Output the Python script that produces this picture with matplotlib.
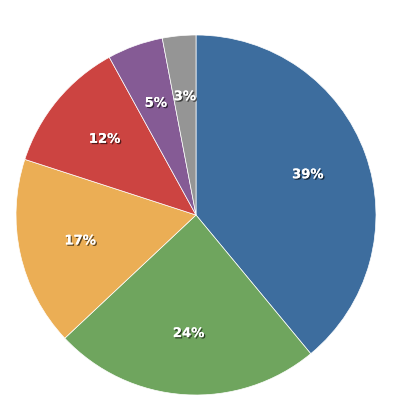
import matplotlib
matplotlib.use("Agg")
import matplotlib.pyplot as plt
import matplotlib.patheffects as pe

labels = ["A", "B", "C", "D", "E", "F"]
values = [39, 24, 17, 12, 5, 3]
colors = ["#3d6d9e", "#6fa55e", "#ebae55", "#cc4441", "#855b95", "#959595"]

fig = plt.figure(figsize=(4.03, 4.03), dpi=100)
ax = fig.add_axes([16/403, 8/403, 360/403, 360/403])
wedges, texts, autotexts = ax.pie(values, colors=colors, startangle=90, counterclock=False,
       autopct="%d%%", pctdistance=0.66, radius=1.0,
       wedgeprops=dict(edgecolor="white", linewidth=0.5))
for t in autotexts:
    t.set_color("white")
    t.set_fontweight("bold")
    t.set_fontsize(9.5)
    t.set_path_effects([pe.withSimplePatchShadow(offset=(1, -1), shadow_rgbFace="black", alpha=0.6), pe.Normal()])
ax.set_xlim(-1, 1); ax.set_ylim(-1, 1)
ax.set_aspect("equal")
fig.savefig("out.png", dpi=100)
